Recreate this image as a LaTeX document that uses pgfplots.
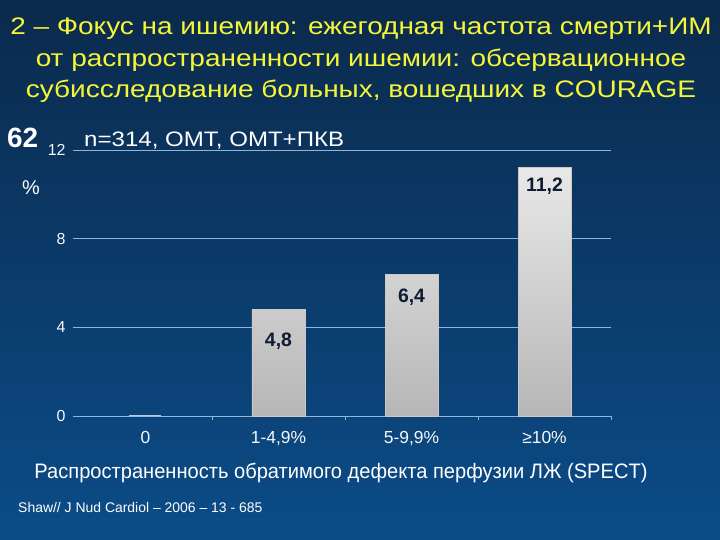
\documentclass[border=0pt]{standalone}
\usepackage{pgfplots}
\pgfplotsset{compat=1.18}
\usepackage{pgfplotstable}
\usepackage{fontspec}
\setmainfont{Liberation Sans}
\definecolor{bgtop}{HTML}{0B2A4C}
\definecolor{bgbot}{HTML}{0B4C88}
\definecolor{ttl}{HTML}{F5F53A}
\definecolor{grd}{HTML}{8DB6DE}
\definecolor{lblc}{HTML}{0D1B33}
\definecolor{barT}{HTML}{E8E8E8}
\definecolor{barB}{HTML}{B6B6B6}
\definecolor{barE}{HTML}{D0C8C0}

\pgfplotstableread{
x y lab off
1 4.8 4,8 32
2 6.4 6,4 23
3 11.2 11,2 18
}\datatab
\pgfplotstableread{
x y
0 0.06
}\zerotab

\begin{document}
\begin{tikzpicture}[x=1bp,y=1bp]
\shade[top color=bgtop, bottom color=bgbot] (0,0) rectangle (720,540);
\begin{axis}[at={(73bp,124bp)}, anchor=south west, scale only axis,
  width=538bp, height=266bp,
  xmin=-0.545, xmax=3.5, ymin=0, ymax=12,
  ybar, bar width=53bp, bar shift=0pt,
  axis lines*=left,
  y axis line style={draw=none},
  x axis line style={draw=grd, line width=0.8pt},
  ymajorgrids, grid style={draw=grd, line width=0.8pt},
  ytick={0,4,8,12}, ytick style={draw=none},
  /pgf/number format/assume math mode=true,
  yticklabel style={text=white!92!grd, font=\fontsize{16}{18}\selectfont, xshift=-4bp},
  xtick={0,1,2,3},
  xticklabels={0,{1-4,9\%},{5-9,9\%},{≥10\%}},
  xtick style={draw=none},
  xticklabel style={text=white!92!grd, font=\fontsize{17.5}{19}\selectfont, yshift=-8bp},
  extra x ticks={0.5,1.5,2.5,3.5},
  extra x tick labels={},
  extra x tick style={xtick style={draw=grd, line width=0.8pt}, major tick length=4bp, tick align=outside},
  clip=false,
]
\addplot[fill=grd!70!white, draw=none, bar width=32bp] table[x=x,y=y]{\zerotab};
\addplot[top color=barT, bottom color=barB, draw=barE, line width=0.6pt,
  point meta=explicit symbolic,
  nodes near coords={\textbf{\pgfplotspointmeta}},
  visualization depends on={\thisrow{off}\as\off},
  every node near coord/.append style={anchor=center, yshift=-\off bp, text=lblc,
    font=\fontsize{19.5}{21}\selectfont}]
  table[x=x,y=y,meta=lab]{\datatab};
\end{axis}
\node[anchor=base, text=ttl, font=\fontsize{24}{28}\selectfont] at (361,505) {\scalebox{1.17}[1]{2 – Фокус на ишемию: ежегодная частота смерти+ИМ}};
\node[anchor=base, text=ttl, font=\fontsize{24}{28}\selectfont] at (361,473) {\scalebox{1.17}[1]{от распространенности ишемии: обсервационное}};
\node[anchor=base, text=ttl, font=\fontsize{24}{28}\selectfont] at (361,442) {\scalebox{1.17}[1]{субисследование больных, вошедших в COURAGE}};
\node[anchor=base west, text=white, font=\bfseries\fontsize{28}{32}\selectfont, inner sep=0pt] at (7,392) {62};
\node[anchor=center, text=white, font=\fontsize{20}{24}\selectfont] at (31,352) {\%};
\node[anchor=base west, text=white, font=\fontsize{21}{24}\selectfont, inner sep=0pt] at (84,393) {\scalebox{1.15}[1]{n=314, ОМТ, ОМТ+ПКВ}};
\node[anchor=base, text=white, font=\fontsize{21}{24}\selectfont] at (341,61) {\scalebox{0.96}[1]{Распространенность обратимого дефекта перфузии ЛЖ (SPECT)}};
\node[anchor=base west, text=white, font=\fontsize{14}{16}\selectfont, inner sep=0pt] at (18,27) {Shaw// J Nud Cardiol – 2006 – 13 - 685};
\end{tikzpicture}
\end{document}
